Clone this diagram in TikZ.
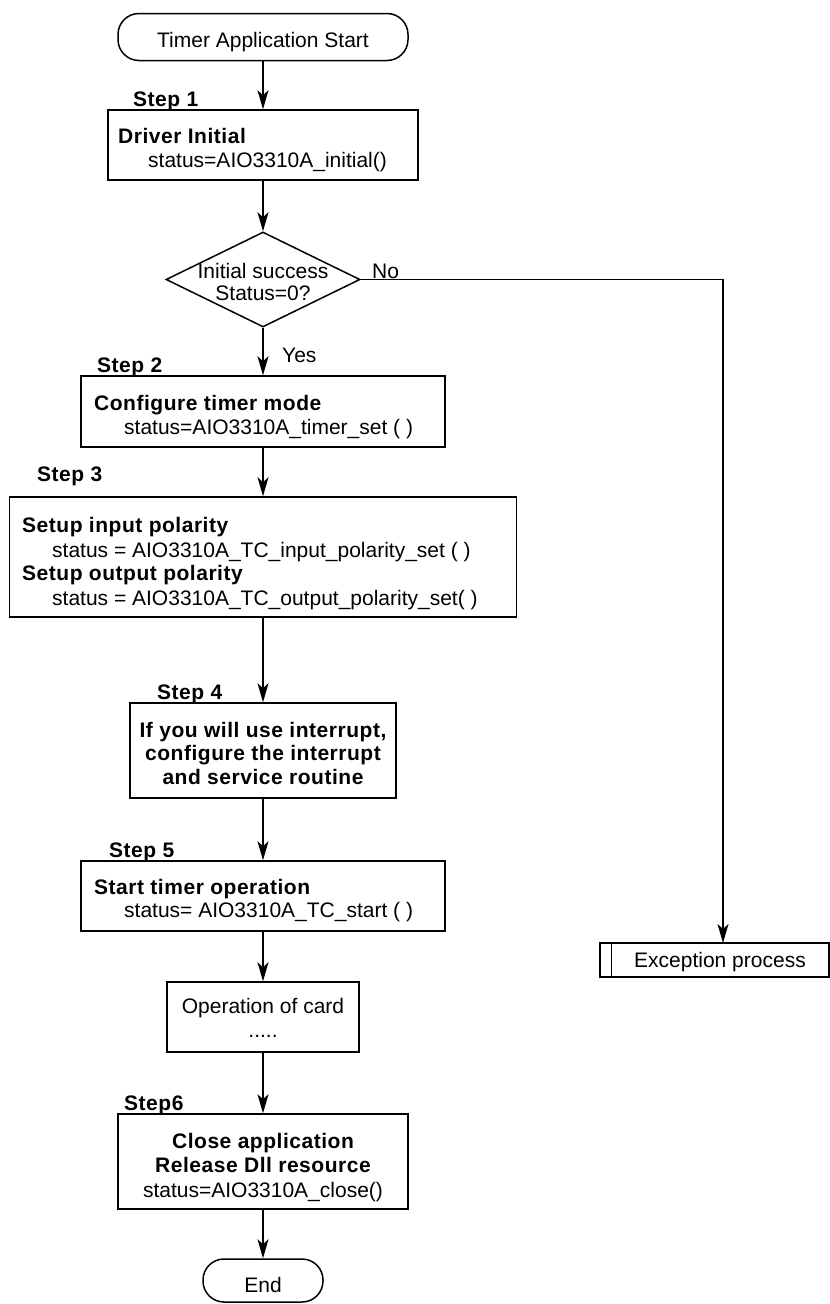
\documentclass[tikz,border=0pt]{standalone}
\usepackage{fontspec}
\setmainfont{Liberation Sans}
\newfontfamily\boldsp[LetterSpace=2.5]{Liberation Sans Bold}
\usetikzlibrary{shapes.geometric,arrows.meta}

\begin{document}
\begin{tikzpicture}[x=1pt,y=-1pt,
  every node/.style={font=\fontsize{21}{24}\selectfont, inner sep=0pt},
  box/.style={draw, line width=1.5pt, rectangle, inner sep=0pt},
  term/.style={box, rounded corners=21pt},
  decision/.style={draw, line width=1.5pt, diamond, inner sep=0pt},
  lt/.style={anchor=base west},
  ct/.style={anchor=base},
  bt/.style={font=\fontsize{21}{24}\boldsp},
  wire/.style={draw, line width=1.5pt},
  arr/.style={wire, -{Stealth[length=19pt,width=11pt,inset=5pt]}},
]
\useasboundingbox (0,0) rectangle (830,1304);

% shapes
\node[term, minimum width=290pt, minimum height=47pt] (start) at (263,37) {};
\node[box, minimum width=310pt, minimum height=70pt] (b1) at (263,145) {};
\node[decision, minimum width=194pt, minimum height=95pt] (dia) at (263,279.5) {};
\node[box, minimum width=364pt, minimum height=71pt] (b2) at (263,411.5) {};
\node[box, minimum width=507pt, minimum height=120pt] (b3) at (263,557) {};
\node[box, minimum width=266pt, minimum height=95pt] (b4) at (263,750.5) {};
\node[box, minimum width=364pt, minimum height=70pt] (b5) at (263,896) {};
\node[box, minimum width=192pt, minimum height=70pt] (op) at (263,1017) {};
\node[box, minimum width=290pt, minimum height=95pt] (b6) at (263,1161.5) {};
\node[term, minimum width=120pt, minimum height=43pt] (end) at (263,1280.5) {};
\node[box, minimum width=229pt, minimum height=34pt] (exc) at (714.5,960) {};
\draw[wire] ([xshift=12pt]exc.north west) -- ([xshift=12pt]exc.south west);
\coordinate (excin) at (723,943);

% texts
\node[ct] (tstart) at (263,47) {Timer Application Start};

\node[lt,bt] (s1) at (133,106) {Step 1};
\node[lt,bt] (t1a) at (118,143) {Driver Initial};
\node[lt] (t1b) at (148,167) {status=AIO3310A\_initial()};

\node[ct] (tda) at (263,278) {Initial success};
\node[ct] (tdb) at (263,300) {Status=0?};
\node[lt] (no) at (372,278) {No};
\node[lt] (yes) at (282,362) {Yes};

\node[lt,bt] (s2) at (97,372) {Step 2};
\node[lt,bt] (t2a) at (94,410) {Configure timer mode};
\node[lt] (t2b) at (124,434) {status=AIO3310A\_timer\_set ( )};

\node[lt,bt] (s3) at (37,481) {Step 3};
\node[lt,bt] (t3a) at (22,532) {Setup input polarity};
\node[lt] (t3b) at (52,557) {status = AIO3310A\_TC\_input\_polarity\_set ( )};
\node[lt,bt] (t3c) at (22,580) {Setup output polarity};
\node[lt] (t3d) at (52,605) {status = AIO3310A\_TC\_output\_polarity\_set( )};

\node[lt,bt] (s4) at (157,699) {Step 4};
\node[ct,bt] (t4a) at (263,737) {If you will use interrupt,};
\node[ct,bt] (t4b) at (263,760) {configure the interrupt};
\node[ct,bt] (t4c) at (263,784) {and service routine};

\node[lt,bt] (s5) at (109,857) {Step 5};
\node[lt,bt] (t5a) at (94,894) {Start timer operation};
\node[lt] (t5b) at (124,917) {status= AIO3310A\_TC\_start ( )};

\node[ct] (toa) at (263,1013) {Operation of card};
\node[ct] (tob) at (263,1037) {.....};

\node[lt,bt] (s6) at (124,1110) {Step6};
\node[ct,bt] (t6a) at (263,1148) {Close application};
\node[ct,bt] (t6b) at (263,1172) {Release Dll resource};
\node[ct] (t6c) at (263,1197) {status=AIO3310A\_close()};

\node[ct] (tend) at (263,1292) {End};
\node[ct] (texc) at (720,967) {Exception process};

% connectors
\draw[arr] (start.south) -- (b1.north);
\draw[arr] (b1.south) -- (dia.north);
\draw[arr] (dia.south) -- (b2.north);
\draw[arr] (b2.south) -- (b3.north);
\draw[arr] (b3.south) -- (b4.north);
\draw[arr] (b4.south) -- (b5.north);
\draw[arr] (b5.south) -- (op.north);
\draw[arr] (op.south) -- (b6.north);
\draw[arr] (b6.south) -- (end.north);
\draw[arr] (dia.east) -| (excin);
\end{tikzpicture}
\end{document}
